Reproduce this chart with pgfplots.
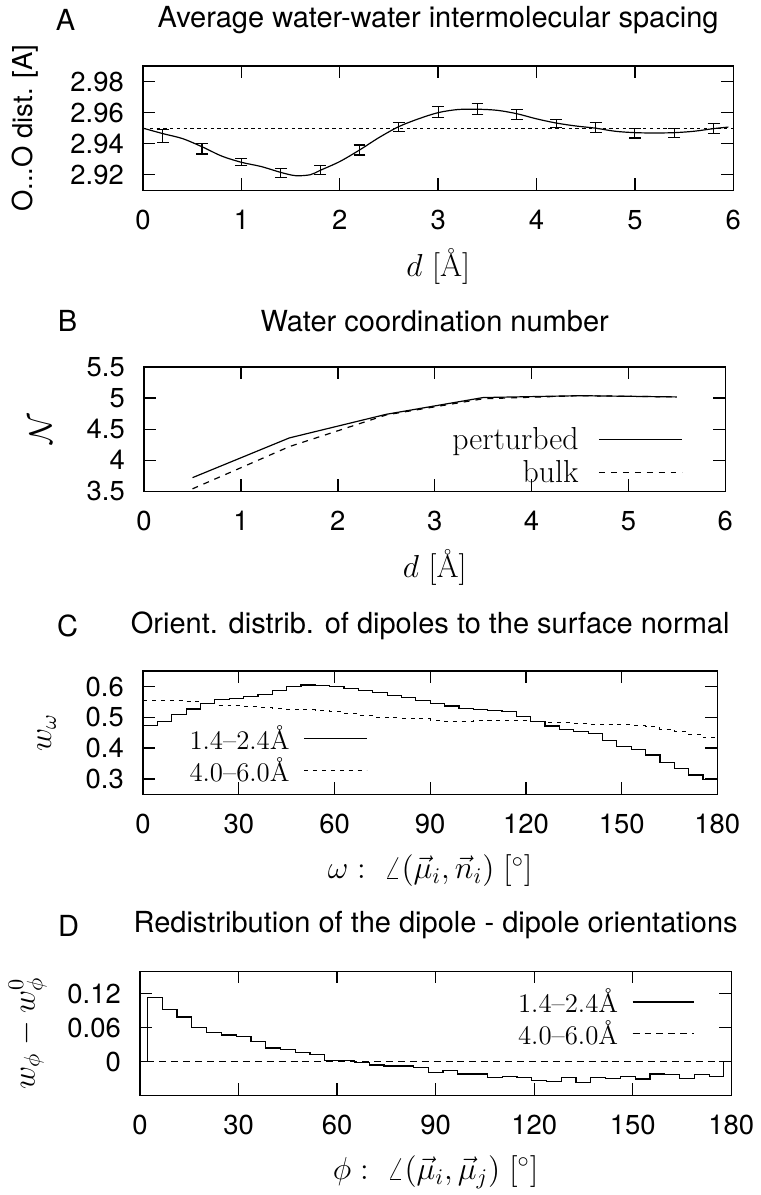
\documentclass[border=0pt]{standalone}
\usepackage{fix-cm}
\usepackage{fontspec}
\usepackage{pgfplots}
\pgfplotsset{compat=1.18}
\newfontfamily\hv{TeX Gyre Heros}

\newcommand\tickfont{\hv\fontsize{13.8}{16}\selectfont}
\newcommand\titlefont{\hv\fontsize{14.6}{17}\selectfont}
\newcommand\labfont{\fontsize{16}{19}\selectfont}

\pgfplotsset{
  panel/.style={
    scale only axis,
    tick align=inside,
    major tick length=6pt,
    axis line style={line width=0.7pt},
    every tick/.style={black, line width=0.7pt},
    tick label style={font=\tickfont},
    scaled ticks=false,
    /pgf/number format/assume math mode=true,
    xticklabel style={anchor=center, yshift=-15pt},
    yticklabel style={anchor=east, inner sep=0pt, xshift=-9.5pt},
    every axis title/.style={font=\titlefont, at={(axis description cs:0.5,1)}, anchor=center, yshift=23pt},
    xlabel style={font=\labfont, at={(axis description cs:0.5,0)}, anchor=center, yshift=-38.5pt},
    ylabel style={font=\labfont, anchor=center},
    legend cell align=right,
    legend plot pos=right,
    legend style={draw=none, fill=none, inner sep=0pt, anchor=north east,
      font=\fontsize{13.5}{16}\selectfont, column sep=5pt, row sep=-1.5pt},
  },
}

\begin{document}
\begin{tikzpicture}
\path (0,0) rectangle (380.5pt,-597.5pt);

%% A: average O...O spacing
\begin{axis}[panel, at={(72pt,-31pt)}, anchor=north west, width=297pt, height=62.5pt,
  xmin=0, xmax=6, ymin=2.91, ymax=2.99,
  xtick={0,1,2,3,4,5,6},
  ytick={2.92,2.94,2.96,2.98}, yticklabels={2.92,2.94,2.96,2.98},
  title={Average water-water intermolecular spacing},
  xlabel={$d$ [\AA]},
  ylabel={O...O dist. [A]},
  ylabel style={font=\tickfont, at={(axis description cs:-0.2,0.5)}},
]
\addplot[black, line width=0.5pt, dash pattern=on 1.7pt off 1.7pt] coordinates {(0,2.95) (6,2.95)};
\addplot[black, line width=0.6pt, smooth] coordinates {
  (0,2.950) (0.2,2.9465) (0.4,2.9433) (0.6,2.938) (0.8,2.932) (1.0,2.928)
  (1.2,2.9253) (1.4,2.9215) (1.55,2.9194) (1.7,2.920) (1.8,2.9228) (2.0,2.9285)
  (2.2,2.9359) (2.4,2.944) (2.6,2.951) (2.8,2.956) (3.0,2.960) (3.2,2.962)
  (3.4,2.9622) (3.6,2.9615) (3.8,2.9593) (4.0,2.956) (4.2,2.9533) (4.4,2.9514)
  (4.6,2.950) (4.8,2.948) (5.0,2.9471) (5.2,2.9469) (5.4,2.9471) (5.6,2.948)
  (5.8,2.9497) (5.95,2.9507)
};
\addplot[black, only marks, mark=*, mark size=0pt, mark options={draw=none, fill=none},
  error bars/.cd, y dir=both, y explicit,
  error bar style={black, line width=0.6pt},
  error mark options={black, rotate=90, mark size=3pt, line width=0.6pt}]
coordinates {
  (0.2,2.9448) +- (0,0.0042)
  (0.6,2.9368) +- (0,0.0034)
  (1.0,2.9280) +- (0,0.0023)
  (1.4,2.9209) +- (0,0.0029)
  (1.8,2.9230) +- (0,0.0029)
  (2.2,2.9359) +- (0,0.0032)
  (2.6,2.9510) +- (0,0.0029)
  (3.0,2.9603) +- (0,0.0036)
  (3.4,2.9622) +- (0,0.0035)
  (3.8,2.9588) +- (0,0.0030)
  (4.2,2.9529) +- (0,0.0027)
  (4.6,2.9503) +- (0,0.0032)
  (5.0,2.9467) +- (0,0.0030)
  (5.4,2.9469) +- (0,0.0030)
  (5.8,2.9500) +- (0,0.0032)
};
\end{axis}
\node[font=\titlefont] at (33pt,-8pt) {A};

%% B: coordination number
\begin{axis}[panel, at={(72.5pt,-182.5pt)}, anchor=north west, width=292.5pt, height=62.5pt,
  xmin=0, xmax=6, ymin=3.5, ymax=5.5,
  xtick={0,1,2,3,4,5,6},
  ytick={3.5,4,4.5,5,5.5}, yticklabels={3.5,4,4.5,5,5.5},
  title={Water coordination number},
  xlabel={$d$ [\AA]},
  ylabel={$\mathcal{N}$},
  ylabel style={at={(axis description cs:-0.178,0.5)}},
  legend style={at={(axis description cs:0.928,0.55)}, font=\fontsize{16}{19}\selectfont, column sep=8pt, row sep=0pt},
  legend image code/.code={\draw[#1] (0pt,0pt) -- (42pt,0pt);},
]
\addplot[black, line width=0.6pt] coordinates {
  (0.5,3.72) (1.5,4.36) (2.5,4.74) (3.5,5.01) (4.5,5.04) (5.5,5.02)
};
\addlegendentry{perturbed}
\addplot[black, line width=0.6pt, dash pattern=on 3pt off 3pt] coordinates {
  (0.5,3.54) (1.5,4.22) (2.5,4.73) (3.5,4.99) (4.5,5.04) (5.5,5.02)
};
\addlegendentry{bulk}
\end{axis}
\node[font=\titlefont] at (34pt,-159.5pt) {B};

%% C: orientation of dipoles to the surface normal
\begin{axis}[panel, at={(72pt,-335.5pt)}, anchor=north west, width=289pt, height=62pt,
  xmin=0, xmax=180, ymin=0.25, ymax=0.65,
  xtick={0,30,60,90,120,150,180},
  ytick={0.3,0.4,0.5,0.6}, yticklabels={0.3,0.4,0.5,0.6},
  title={Orient. distrib. of dipoles to the surface normal},
  xlabel={$\omega :\ \angle(\vec{\mu}_i,\vec{n}_i)\;[^\circ]$},
  ylabel={$w_\omega$},
  ylabel style={at={(axis description cs:-0.168,0.5)}},
  legend style={at={(axis description cs:0.391,0.595)}},
  legend image code/.code={\draw[#1] (0pt,0pt) -- (31.5pt,0pt);},
]
\addplot[black, line width=0.6pt, const plot] coordinates {
  (0,0.474) (4.5,0.486) (9,0.510) (13.5,0.527) (18,0.545) (22.5,0.557)
  (27,0.562) (31.5,0.567) (36,0.574) (40.5,0.588) (45,0.600) (49.5,0.605)
  (54,0.604) (58.5,0.600) (63,0.595) (67.5,0.586) (72,0.580) (76.5,0.571)
  (81,0.565) (85.5,0.555) (90,0.545) (94.5,0.537) (99,0.530) (103.5,0.526)
  (108,0.522) (112.5,0.518) (117,0.503) (121.5,0.486) (126,0.472) (130.5,0.461)
  (135,0.455) (139.5,0.447) (144,0.425) (148.5,0.406) (153,0.396) (157.5,0.378)
  (162,0.354) (166.5,0.333) (171,0.313) (175.5,0.298) (180,0.298)
};
\addlegendentry{1.4--2.4\AA}
\addplot[black, line width=0.5pt, const plot, dash pattern=on 2pt off 2.5pt] coordinates {
  (0,0.556) (4.5,0.556) (9,0.555) (13.5,0.552) (18,0.545) (22.5,0.540)
  (27,0.537) (31.5,0.535) (36,0.533) (40.5,0.530) (45,0.527) (49.5,0.524)
  (54,0.522) (58.5,0.518) (63,0.512) (67.5,0.505) (72,0.500) (76.5,0.498)
  (81,0.497) (85.5,0.495) (90,0.491) (94.5,0.488) (99,0.487) (103.5,0.489)
  (108,0.490) (112.5,0.490) (117,0.489) (121.5,0.487) (126,0.484) (130.5,0.482)
  (135,0.480) (139.5,0.478) (144,0.477) (148.5,0.476) (153,0.473) (157.5,0.470)
  (162,0.462) (166.5,0.453) (171,0.445) (175.5,0.433) (180,0.433)
};
\addlegendentry{4.0--6.0\AA}
\end{axis}
\node[font=\titlefont] at (34pt,-312.5pt) {C};

%% D: redistribution of dipole-dipole orientations
\begin{axis}[panel, at={(70.5pt,-486.5pt)}, anchor=north west, width=297.5pt, height=62.5pt,
  xmin=0, xmax=180, ymin=-0.06, ymax=0.16,
  xtick={0,30,60,90,120,150,180},
  ytick={0,0.06,0.12}, yticklabels={0,0.06,0.12},
  title={Redistribution of the dipole - dipole orientations},
  xlabel={$\phi :\ \angle(\vec{\mu}_i,\vec{\mu}_j)\;[^\circ]$},
  ylabel={$w_\phi - w_\phi^0$},
  ylabel style={at={(axis description cs:-0.19,0.5)}},
  legend style={at={(axis description cs:0.939,0.895)}},
  legend image code/.code={\draw[#1] (0pt,0pt) -- (31pt,0pt);},
]
\addplot[black, line width=0.6pt, const plot] coordinates {
  (2.25,0) (2.25,0.114) (6.75,0.092) (11.25,0.079) (15.75,0.061) (20.25,0.052)
  (24.75,0.047) (29.25,0.045) (33.75,0.036) (38.25,0.024) (42.75,0.021)
  (47.25,0.016) (51.75,0.012) (56.25,0.002) (60.75,0.002) (65.25,-0.001)
  (69.75,-0.006) (74.25,-0.008) (78.75,-0.008) (83.25,-0.011) (87.75,-0.019)
  (92.25,-0.016) (96.75,-0.022) (101.25,-0.022) (105.75,-0.028) (110.25,-0.026)
  (114.75,-0.028) (119.25,-0.034) (123.75,-0.035) (128.25,-0.028) (132.75,-0.037)
  (137.25,-0.028) (141.75,-0.030) (146.25,-0.027) (150.75,-0.031) (155.25,-0.022)
  (159.75,-0.023) (164.25,-0.030) (168.75,-0.023) (173.25,-0.026) (177.75,-0.026)
  (177.75,0)
};
\addlegendentry{1.4--2.4\AA}
\addplot[black, line width=0.5pt, dash pattern=on 3.5pt off 2.5pt] coordinates {
  (2.25,0) (177.75,0)
};
\addlegendentry{4.0--6.0\AA}
\end{axis}
\node[font=\titlefont] at (34.5pt,-463.5pt) {D};
\end{tikzpicture}
\end{document}
